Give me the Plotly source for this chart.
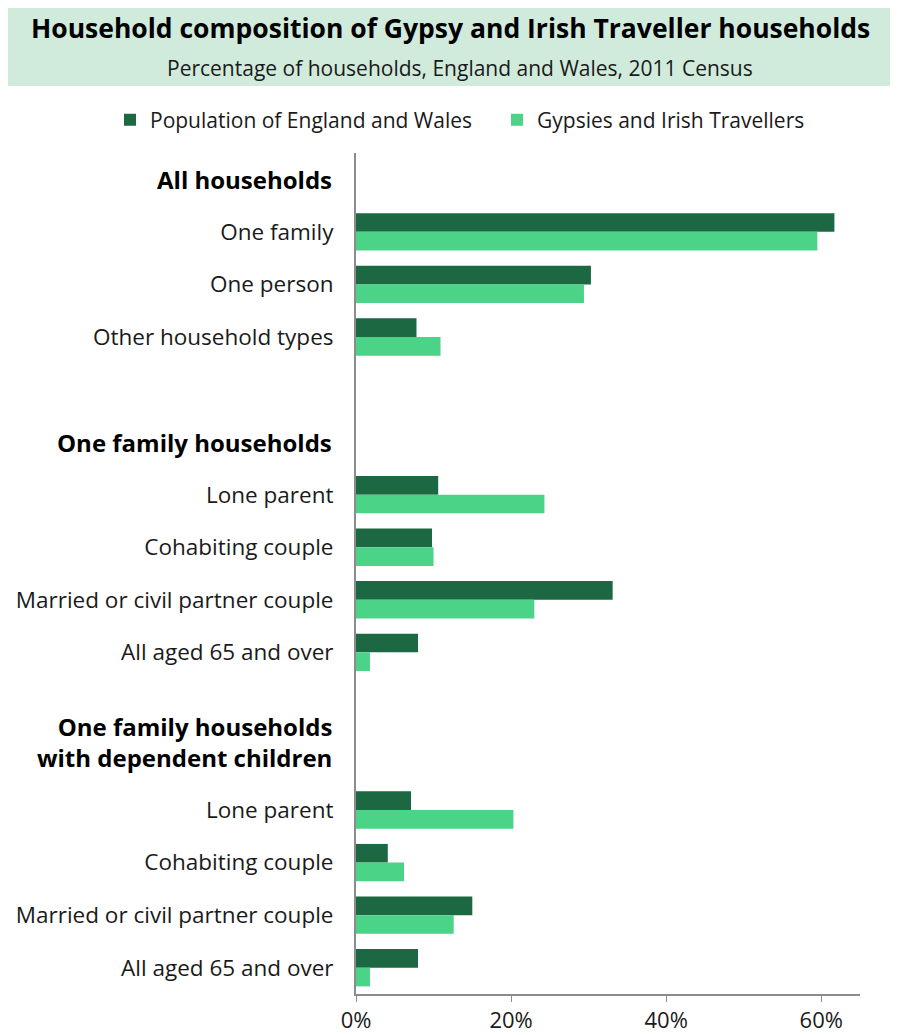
import plotly.graph_objects as go

# ---- data ----
row_ids = ["h1", "a1", "a2", "a3", "g1", "h2", "b1", "b2", "b3", "b4", "g2", "h3", "c1", "c2", "c3", "c4"]
row_labels = ["", "One family", "One person", "Other household types", "",
              "", "Lone parent", "Cohabiting couple", "Married or civil partner couple", "All aged 65 and over", "",
              "", "Lone parent", "Cohabiting couple", "Married or civil partner couple", "All aged 65 and over"]
headers = {"h1": "All households", "h2": "One family households",
           "h3": "One family households<br>with dependent children"}
pop_ew = [None, 61.7, 30.3, 7.8, None, None, 10.6, 9.8, 33.1, 8.0, None, None, 7.1, 4.1, 15.0, 8.0]
gypsy = [None, 59.5, 29.4, 10.9, None, None, 24.3, 10.0, 23.0, 1.8, None, None, 20.3, 6.2, 12.6, 1.8]
x_ticks = [0, 20, 40, 60]
x_tick_text = ["0%", "20%", "40%", "60%"]

DARK = "#1b6842"
LIGHT = "#4bd388"
FONT = "Open Sans"

W, H = 899, 1035
L, R, T, B = 356, 39, 153, 41
pw, ph = W - L - R, H - T - B


def px_x(px):
    return (px - L) / pw


def px_y(py):
    return (H - B - py) / ph


fig = go.Figure()
fig.add_trace(go.Bar(y=row_ids, x=pop_ew, orientation="h", name="Population of England and Wales",
                     marker=dict(color=DARK, line=dict(width=0)), legend="legend"))
fig.add_trace(go.Bar(y=row_ids, x=gypsy, orientation="h", name="Gypsies and Irish Travellers",
                     marker=dict(color=LIGHT, line=dict(width=0)), legend="legend2"))

leg_common = dict(orientation="h", xref="container", yref="container", y=1 - 120 / H,
                  xanchor="left", yanchor="middle", font=dict(size=21, family=FONT, color="#1a1a1a"),
                  bgcolor="rgba(0,0,0,0)", itemwidth=30)

fig.update_layout(
    width=W, height=H,
    margin=dict(l=L, r=R, t=T, b=B, autoexpand=False),
    paper_bgcolor="white", plot_bgcolor="white",
    font=dict(family=FONT, size=20, color="#1a1a1a"),
    barmode="group", bargap=0.29, bargroupgap=0,
    showlegend=True,
    legend=dict(x=(155 - 45) / W, **leg_common),
    legend2=dict(x=(542 - 45) / W, **leg_common),
    xaxis=dict(range=[0, 65], tickvals=x_ticks, ticktext=x_tick_text, showgrid=False, zeroline=False,
               showline=True, linecolor="#8c8c8c", linewidth=2, ticks="outside", ticklen=6,
               tickcolor="#8c8c8c", tickwidth=1, tickfont=dict(size=22)),
    yaxis=dict(type="category", categoryorder="array", categoryarray=row_ids, autorange="reversed",
               tickvals=row_ids, ticktext=row_labels, showgrid=False, zeroline=False,
               showline=True, linecolor="#8c8c8c", linewidth=2, ticks="", ticklabelstandoff=16,
               tickfont=dict(size=22.5)),
)

# title box
fig.add_shape(type="rect", xref="paper", yref="paper",
              x0=px_x(8), x1=px_x(890), y0=px_y(86), y1=px_y(8),
              fillcolor="#d0ebdc", line=dict(width=0), layer="below")
fig.add_annotation(text="<b>Household composition of Gypsy and Irish Traveller households</b>",
                   xref="paper", yref="paper", x=px_x(450), y=px_y(28), showarrow=False,
                   xanchor="center", yanchor="middle", font=dict(size=26.5, family=FONT, color="#000000"))
fig.add_annotation(text="Percentage of households, England and Wales, 2011 Census",
                   xref="paper", yref="paper", x=px_x(460), y=px_y(68), showarrow=False,
                   xanchor="center", yanchor="middle", font=dict(size=21, family=FONT, color="#1a1a1a"))

# group headers
for rid, txt in headers.items():
    shift = 15 if "<br>" in txt else 0
    fig.add_annotation(text="<b>" + txt + "</b>", xref="paper", yref="y", x=px_x(334), y=rid,
                       xanchor="right", yanchor="middle", showarrow=False, yshift=shift, align="right",
                       font=dict(size=24, family=FONT, color="#000000"))

fig.write_html("out.html")
